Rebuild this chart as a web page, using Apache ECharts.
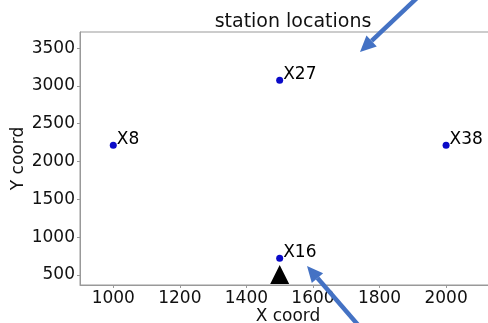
<!DOCTYPE html>
<html><head><meta charset="utf-8">
<script src="https://cdn.jsdelivr.net/npm/echarts@6/dist/echarts.min.js"></script>
<style>html,body{margin:0;padding:0;background:#fff}#c{width:488px;height:323px}</style>
</head><body><div id="c"></div>
<script>
const stationNames = ['X8', 'X27', 'X38', 'X16'];
const stationX = [1000, 1500, 2000, 1500];
const stationY = [2215, 3075, 2215, 720];
const sourceX = [1500];
const sourceY = [505];
const xTicks = [1000, 1200, 1400, 1600, 1800, 2000];
const yTicks = [500, 1000, 1500, 2000, 2500, 3000, 3500];

const chart = echarts.init(document.getElementById('c'), null, {renderer: 'canvas'});
const font = 'DejaVu Sans';

function arrow(tail, tip, color) {
  const dx = tip[0] - tail[0], dy = tip[1] - tail[1];
  const len = Math.hypot(dx, dy), ux = dx / len, uy = dy / len;
  const hl = 16, hw = 7.5;
  const bx = tip[0] - hl * ux, by = tip[1] - hl * uy;
  const px = -uy * hw, py = ux * hw;
  return [
    {type: 'line', shape: {x1: tail[0], y1: tail[1], x2: bx, y2: by}, style: {stroke: color, lineWidth: 4.5}, z: 100},
    {type: 'polygon', shape: {points: [[tip[0], tip[1]], [bx + px, by + py], [bx - px, by - py]]}, style: {fill: color}, z: 100}
  ];
}

chart.setOption({
  animation: false,
  title: {text: 'station locations', left: 288, textAlign: 'center', top: 8,
    textStyle: {fontFamily: font, fontSize: 19, fontWeight: 'normal', color: '#111'}},
  grid: {left: 80, top: 32, width: 416, height: 253, show: true, borderColor: '#999', borderWidth: 1,
    containLabel: false, outerBoundsMode: 'none'},
  xAxis: {type: 'value', min: 900, max: 2150,
    name: 'X coord', nameLocation: 'middle', nameGap: 23, nameMoveOverlap: false,
    nameTextStyle: {fontFamily: font, fontSize: 17, color: '#111'},
    axisLine: {show: true, lineStyle: {color: '#999'}},
    axisTick: {show: true, length: 3, customValues: xTicks, lineStyle: {color: '#999'}},
    axisLabel: {customValues: xTicks, formatter: v => String(v), fontFamily: font, fontSize: 17, color: '#111', margin: 5},
    splitLine: {show: false}},
  yAxis: {type: 'value', min: 367, max: 3713,
    name: 'Y coord', nameLocation: 'middle', nameGap: 53, nameMoveOverlap: false,
    nameTextStyle: {fontFamily: font, fontSize: 17, color: '#111'},
    axisLine: {show: true, lineStyle: {color: '#999'}},
    axisTick: {show: true, length: 3, customValues: yTicks, lineStyle: {color: '#999'}},
    axisLabel: {customValues: yTicks, formatter: v => String(v), fontFamily: font, fontSize: 17, color: '#111', margin: 5},
    splitLine: {show: false}},
  series: [
    {type: 'scatter', symbol: 'circle', symbolSize: 7,
      itemStyle: {color: '#0a0ac8', opacity: 1},
      data: stationX.map((x, i) => ({value: [x, stationY[i]], name: stationNames[i]})),
      label: {show: true, position: 'right', distance: 0, offset: [0, -6], formatter: p => p.name,
        fontFamily: font, fontSize: 17, color: '#000'}},
    {type: 'scatter', symbol: 'triangle', symbolSize: [19, 19],
      itemStyle: {color: '#000', opacity: 1},
      data: sourceX.map((x, i) => [x, sourceY[i]])}
  ],
  graphic: [].concat(arrow([418, -3], [360, 52], '#4472C4'), arrow([359, 326], [307, 266], '#4472C4'))
});
</script></body></html>
